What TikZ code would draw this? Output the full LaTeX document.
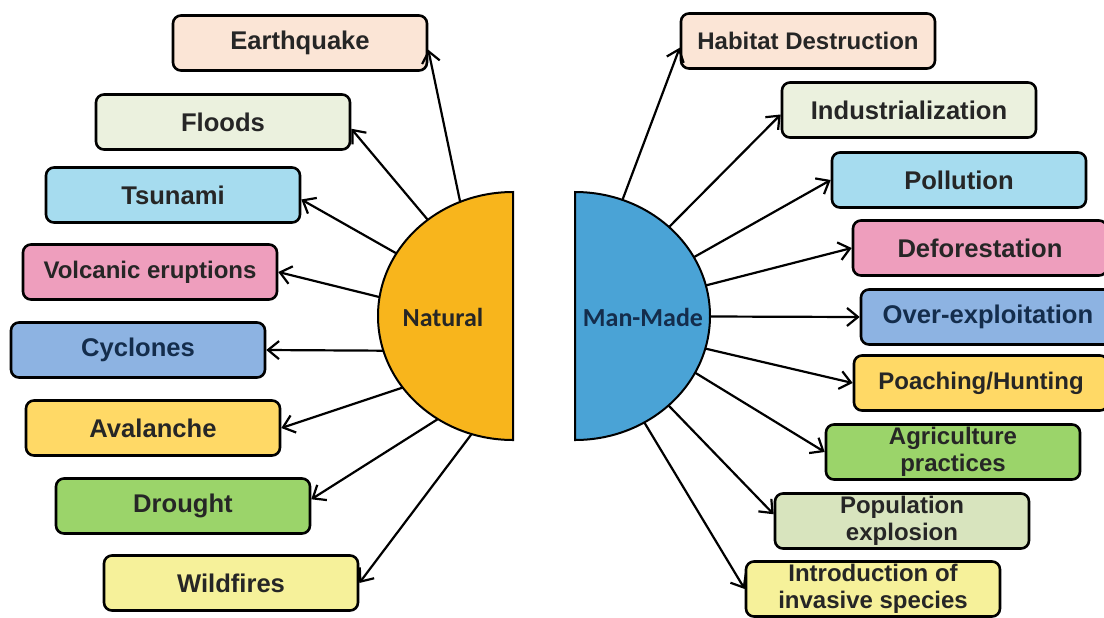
\documentclass[tikz,border=0pt]{standalone}
\usepackage{fontspec}
\setmainfont{Liberation Sans}
\newfontfamily\calibri{Carlito}
\usetikzlibrary{arrows.meta}
\definecolor{natorange}{HTML}{F8B51C}
\definecolor{manblue}{HTML}{4AA3D6}
\definecolor{cpeach}{HTML}{FBE5D6}
\definecolor{csage}{HTML}{EBF1DE}
\definecolor{csky}{HTML}{A6DCEF}
\definecolor{cpink}{HTML}{EE9EBD}
\definecolor{cblue}{HTML}{8DB3E2}
\definecolor{cgold}{HTML}{FFD966}
\definecolor{cleaf}{HTML}{9BD46A}
\definecolor{clemon}{HTML}{F6F19A}
\definecolor{colive}{HTML}{D8E4BE}
\definecolor{navytext}{HTML}{142D4C}

\begin{document}
\begin{tikzpicture}[x=0.5pt, y=-0.5pt, >={Straight Barb[length=5.5pt,width=9pt]},
  box/.style={draw, line width=1.3pt, rounded corners=4pt, minimum width=127pt,
    minimum height=27.5pt, inner sep=0pt, align=center, text=black!85,
    font=\fontsize{12.8}{14}\selectfont\bfseries},
  small/.style={font=\fontsize{12}{13.5}\selectfont\bfseries},
  link/.style={->, line width=1.1pt},
  half/.style={draw, line width=1pt}]
\useasboundingbox (0,0) rectangle (1104,617);

% the two halves
\coordinate (nat) at (513,316.5);
\coordinate (man) at (575,316.5);
\draw[half, fill=natorange] (513,193) -- (513,440)
  arc[start angle=-90, end angle=-270, x radius=67.5pt, y radius=62pt] -- cycle;
\draw[half, fill=manblue] (575,193) -- (575,440)
  arc[start angle=-90, end angle=90, x radius=67.5pt, y radius=62pt] -- cycle;
\node[font=\calibri\fontsize{13}{15}\selectfont\bfseries, text=black!85] (natlbl) at (443,317) {Natural};
\node[font=\calibri\fontsize{13}{15}\selectfont\bfseries, text=navytext] (manlbl) at (643,317) {Man-Made};

% natural causes
\node[box, fill=cpeach]   (quake)     at (300,43)  {Earthquake};
\node[box, fill=csage]    (flood)     at (223,122) {Floods};
\node[box, fill=csky]     (tsunami)   at (173,195) {Tsunami};
\node[box, fill=cpink, small] (volcano) at (150,272) {Volcanic eruptions};
\node[box, fill=cblue, text=navytext] (cyclone) at (138,350) {Cyclones};
\node[box, fill=cgold]    (avalanche) at (153,428) {Avalanche};
\node[box, fill=cleaf]    (drought)   at (183,506) {Drought};
\node[box, fill=clemon]   (fire)      at (231,583) {Wildfires};

% man-made causes
\node[box, fill=cpeach, small] (habitat) at (808,41) {Habitat Destruction};
\node[box, fill=csage]    (industry)  at (909,110) {Industrialization};
\node[box, fill=csky]     (pollution) at (959,180) {Pollution};
\node[box, fill=cpink]    (forest)    at (980,248) {Deforestation};
\node[box, fill=cblue, text=navytext] (exploit) at (988,317) {Over-exploitation};
\node[box, fill=cgold, small] (poach) at (981,383) {Poaching/Hunting};
\node[box, fill=cleaf, small]  (agri)   at (953,452) {Agriculture\\practices};
\node[box, fill=colive, small] (popul)  at (902,521) {Population\\explosion};
\node[box, fill=clemon, small] (invasive) at (873,589) {Introduction of\\invasive species};

% start points on the arcs
\foreach \t [count=\i] in {113,129,149.5,171,196,215,236,252}
  \path (nat) ++(\t:67.5pt and 62pt) coordinate (n\i);
\foreach \t [count=\i] in {69.5,46,28.5,14.5,0,-15,-27,-46,-59}
  \path (man) ++(\t:67.5pt and 62pt) coordinate (m\i);

\foreach \a/\b in {n1/quake.-3, n2/flood.-3, n3/tsunami.-2, n4/volcano.east,
    n5/cyclone.east, n6/avalanche.east, n7/drought.3, n8/fire.east}
  \draw[link] (\a) -- (\b);
\foreach \a/\b in {m1/habitat.183, m2/industry.182, m3/pollution.west, m4/forest.west,
    m5/exploit.west, m6/poach.west, m7/agri.west, m8/popul.177, m9/invasive.west}
  \draw[link] (\a) -- (\b);
\end{tikzpicture}
\end{document}
